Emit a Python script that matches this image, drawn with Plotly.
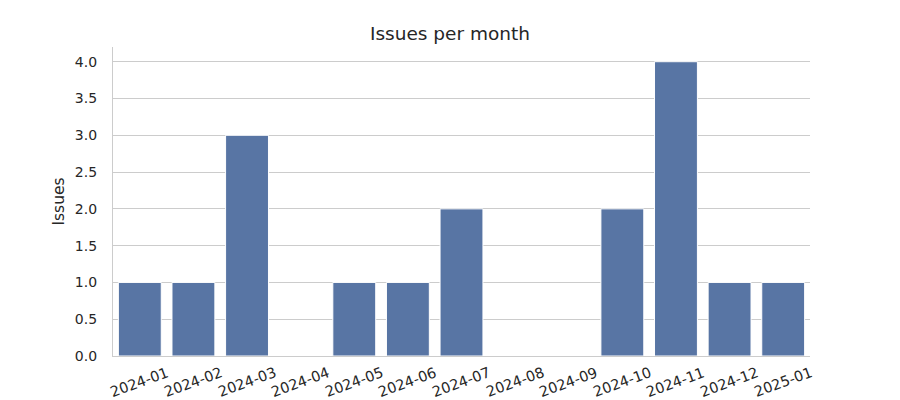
import plotly.graph_objects as go

months = ["2024-01", "2024-02", "2024-03", "2024-04", "2024-05", "2024-06", "2024-07",
          "2024-08", "2024-09", "2024-10", "2024-11", "2024-12", "2025-01"]
issues = [1, 1, 3, 0, 1, 1, 2, 0, 0, 2, 4, 1, 1]
yticks = [0, 0.5, 1, 1.5, 2, 2.5, 3, 3.5, 4]
ytick_text = ["0.0", "0.5", "1.0", "1.5", "2.0", "2.5", "3.0", "3.5", "4.0"]

font = "DejaVu Sans"
fig = go.Figure(go.Bar(
    x=months, y=issues, marker_color="#5875a4",
    marker_line=dict(color="white", width=1), width=0.8,
))
for m in months:
    fig.add_annotation(x=m, y=0, xref="x", yref="paper", text=m, showarrow=False,
                       textangle=-20, xanchor="center", yanchor="middle", yshift=-26,
                       font=dict(size=14.5, family=font, color="#262626"))
fig.update_layout(
    width=900, height=400, margin=dict(l=113, r=90, t=47, b=44),
    plot_bgcolor="white", paper_bgcolor="white",
    font=dict(family=font, color="#262626", size=14),
    title=dict(text="Issues per month", x=0.5, xanchor="center", y=1 - 34/400, yanchor="middle",
               font=dict(size=18.5, family=font, color="#262626")),
    showlegend=False, bargap=0.2,
)
fig.update_xaxes(type="category", range=[-0.5, 12.5], showgrid=False, showline=True,
                 linecolor="#cccccc", linewidth=1.25, ticks="", showticklabels=False,
                 automargin=False)
fig.update_yaxes(range=[0, 4.2], tickvals=yticks, ticktext=ytick_text, showgrid=True,
                 gridcolor="#cccccc", gridwidth=1, showline=True, linecolor="#cccccc",
                 linewidth=1.25, ticks="", zeroline=False, automargin=False,
                 ticklabelstandoff=12,
                 title=dict(text="Issues", font=dict(size=15.5), standoff=6))
fig.write_html("out.html")
